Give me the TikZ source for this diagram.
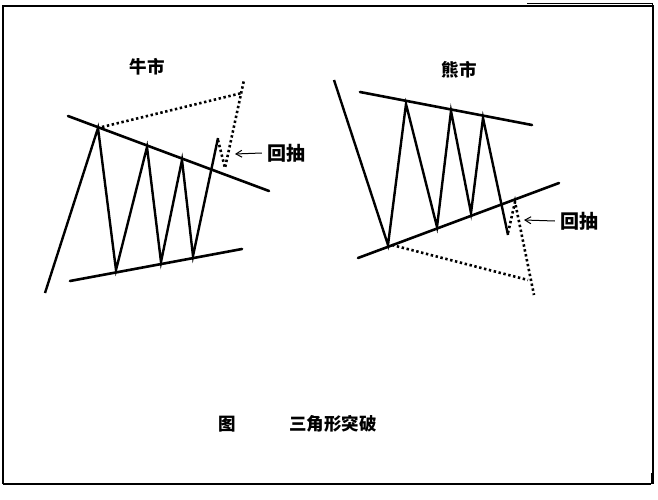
\documentclass[tikz,border=0pt]{standalone}
\usepackage{fontspec}
\newfontfamily\cjk{Noto Sans CJK SC}
\usetikzlibrary{arrows.meta,positioning}

\begin{document}
\begin{tikzpicture}[
    x=1pt, y=-1pt,
    every node/.style={
        font=\cjk\bfseries\fontsize{17.5}{20}\selectfont,
        inner sep=0pt
    },
    tag/.style={font=\cjk\bfseries\fontsize{19}{21}\selectfont},
    trendline/.style={line width=2.6pt, line cap=round},
    waveline/.style={line width=2.4pt, line join=miter, miter limit=20},
    dotline/.style={line width=2.6pt, dash pattern=on 2.4pt off 2.6pt},
    pullarrow/.style={-{Straight Barb[length=6pt,width=7pt]}, line width=1pt},
    frameline/.style={line width=1.6pt}
]

%--- Page and frame ---%
\useasboundingbox (0,0) rectangle (658,500);
\draw[frameline] (3,484) -- (3,6) -- (653,6) -- (653,484);
\draw[line width=2.4pt] (3,484) -- (651,484);
\draw[line width=1pt] (651,473) -- (651,484);
\draw[line width=1pt] (527,4) -- (652,4) -- (652,16);

%-----------------------------------------------
% LEFT: Bull market
%-----------------------------------------------
\node (bulltitle) at (147,67) {牛市};

\coordinate (bullupA) at (68,116);
\coordinate (bullupB) at (269,191);
\coordinate (bulllowA) at (70,281);
\coordinate (bulllowB) at (242,249);

\draw[trendline] (bullupA) -- (bullupB);
\draw[trendline] (bulllowA) -- (bulllowB);

% zigzag
\draw[waveline] (45,293) -- (98,128) -- (116,270) -- (147,147)
    -- (161,262) -- (182,160) -- (193,256) -- (218,138);

% breakout and target
\draw[dotline] (102,127) -- (242,93);
\draw[dotline] (218,140) -- (225,168) -- (244,80);

\node[tag] (bulltag) at (286,153) {回抽};
\draw[pullarrow] (bulltag.west) ++(-5,0) -- (235,154);

%-----------------------------------------------
% RIGHT: Bear market
%-----------------------------------------------
\node (beartitle) at (459,70) {熊市};

\coordinate (bearupA) at (360,92);
\coordinate (bearupB) at (532,125);
\coordinate (bearlowA) at (358,258);
\coordinate (bearlowB) at (559,183);

\draw[trendline] (bearupA) -- (bearupB);
\draw[trendline] (bearlowA) -- (bearlowB);

% zigzag
\draw[waveline] (334,80) -- (388,245) -- (406,104) -- (437,227)
    -- (451,111) -- (471,213) -- (483,118) -- (508,235);

% breakdown and target
\draw[dotline] (392,245) -- (528,280);
\draw[dotline] (508,233) -- (515,202) -- (534,295);

\node[tag] (beartag) at (579,221) {回抽};
\draw[pullarrow] (beartag.west) ++(-5,0) -- (524,220);

%-----------------------------------------------
% CAPTION
%-----------------------------------------------
\node (figmark) at (227,424) {图};
\node (caption) at (333,424) {三角形突破};

\end{tikzpicture}
\end{document}
